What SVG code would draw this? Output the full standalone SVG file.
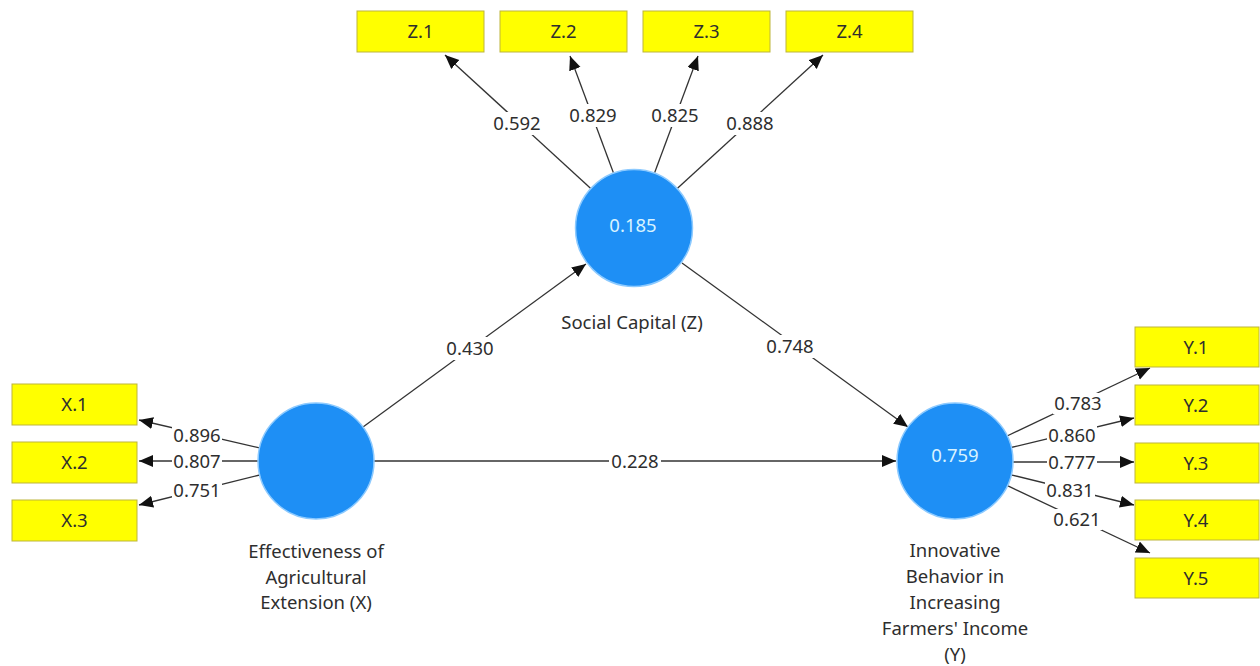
<svg xmlns="http://www.w3.org/2000/svg" width="1260" height="666" viewBox="0 0 1260 666">
<style>
  text { font-family: "Noto Sans", "Open Sans", "DejaVu Sans", sans-serif; fill: #2e2e2e; text-anchor: middle; }
  .ind { fill: #ffff00; stroke: #bdb53c; stroke-width: 1; }
  .lat { fill: #1e8ff5; stroke: #8ccaff; stroke-width: 1.5; }
  .ind-t { font-size: 18.5px; }
  .lat-t { font-size: 18.5px; fill: #d8f3ff; }
  .cap { font-size: 18.5px; }
  .conn { stroke: #333333; stroke-width: 1.3; fill: none; marker-end: url(#arr); }
  .lbl-bg { fill: #ffffff; }
  .lbl { font-size: 18.5px; }
</style>
<defs>
  <marker id="arr" markerUnits="userSpaceOnUse" markerWidth="16" markerHeight="14" refX="14" refY="6" orient="auto">
    <path d="M0,0 L14,6 L0,12 z" fill="#111111"/>
  </marker>
</defs>
<rect width="1260" height="666" fill="#ffffff"/>

<g id="connectors">
  <line class="conn" x1="590.5" y1="188.2" x2="445" y2="55"/>
  <line class="conn" x1="613.4" y1="172.7" x2="570" y2="56"/>
  <line class="conn" x1="654.6" y1="172.7" x2="698" y2="56"/>
  <line class="conn" x1="677.5" y1="188.2" x2="823" y2="55"/>
  <line class="conn" x1="259.5" y1="447.9" x2="139" y2="420"/>
  <line class="conn" x1="258" y1="461" x2="139" y2="461"/>
  <line class="conn" x1="259.7" y1="475" x2="139" y2="505"/>
  <line class="conn" x1="1007" y1="436" x2="1150" y2="368"/>
  <line class="conn" x1="1011" y1="447.5" x2="1134" y2="418"/>
  <line class="conn" x1="1013" y1="462" x2="1134" y2="462"/>
  <line class="conn" x1="1011" y1="474.8" x2="1134" y2="505"/>
  <line class="conn" x1="1007.5" y1="485.7" x2="1150" y2="553"/>
  <line class="conn" x1="363" y1="427" x2="586" y2="264"/>
  <line class="conn" x1="682" y1="263" x2="908" y2="427"/>
  <line class="conn" x1="374" y1="461" x2="896" y2="461"/>

  <rect class="lbl-bg" x="491" y="112" width="52" height="23"/><text class="lbl" x="517" y="130">0.592</text>
  <rect class="lbl-bg" x="567" y="104" width="52" height="23"/><text class="lbl" x="593" y="122">0.829</text>
  <rect class="lbl-bg" x="649" y="104" width="52" height="23"/><text class="lbl" x="675" y="122">0.825</text>
  <rect class="lbl-bg" x="724" y="112" width="52" height="23"/><text class="lbl" x="750" y="130">0.888</text>

  <rect class="lbl-bg" x="172" y="425" width="50" height="21"/><text class="lbl" x="197" y="442">0.896</text>
  <rect class="lbl-bg" x="172" y="451" width="50" height="21"/><text class="lbl" x="197" y="468">0.807</text>
  <rect class="lbl-bg" x="172" y="480" width="50" height="21"/><text class="lbl" x="197" y="497">0.751</text>

  <rect class="lbl-bg" x="1053" y="393" width="50" height="21"/><text class="lbl" x="1078" y="410">0.783</text>
  <rect class="lbl-bg" x="1047" y="425" width="50" height="21"/><text class="lbl" x="1072" y="442">0.860</text>
  <rect class="lbl-bg" x="1047" y="452" width="50" height="21"/><text class="lbl" x="1072" y="469">0.777</text>
  <rect class="lbl-bg" x="1045" y="480" width="50" height="21"/><text class="lbl" x="1070" y="497">0.831</text>
  <rect class="lbl-bg" x="1052" y="509" width="50" height="21"/><text class="lbl" x="1077" y="526">0.621</text>

  <rect class="lbl-bg" x="445" y="337" width="50" height="23"/><text class="lbl" x="470" y="355">0.430</text>
  <rect class="lbl-bg" x="765" y="335" width="50" height="23"/><text class="lbl" x="790" y="353">0.748</text>
  <rect class="lbl-bg" x="609" y="450" width="52" height="22"/><text class="lbl" x="635" y="468">0.228</text>
</g>

<g id="Z1"><rect class="ind" x="357" y="11" width="127" height="41"/><text class="ind-t" x="420.5" y="38">Z.1</text></g>
<g id="Z2"><rect class="ind" x="500" y="11" width="127" height="41"/><text class="ind-t" x="563.5" y="38">Z.2</text></g>
<g id="Z3"><rect class="ind" x="643" y="11" width="127" height="41"/><text class="ind-t" x="706.5" y="38">Z.3</text></g>
<g id="Z4"><rect class="ind" x="786" y="11" width="127" height="41"/><text class="ind-t" x="849.5" y="38">Z.4</text></g>

<g id="X1"><rect class="ind" x="12" y="384" width="125" height="41"/><text class="ind-t" x="74.5" y="411">X.1</text></g>
<g id="X2"><rect class="ind" x="12" y="442" width="125" height="41"/><text class="ind-t" x="74.5" y="469">X.2</text></g>
<g id="X3"><rect class="ind" x="12" y="500" width="125" height="41"/><text class="ind-t" x="74.5" y="527">X.3</text></g>

<g id="Y1"><rect class="ind" x="1135" y="327" width="124" height="40"/><text class="ind-t" x="1196" y="353.5">Y.1</text></g>
<g id="Y2"><rect class="ind" x="1135" y="385" width="124" height="40"/><text class="ind-t" x="1196" y="411.5">Y.2</text></g>
<g id="Y3"><rect class="ind" x="1135" y="443" width="124" height="40"/><text class="ind-t" x="1196" y="469.5">Y.3</text></g>
<g id="Y4"><rect class="ind" x="1135" y="500" width="124" height="40"/><text class="ind-t" x="1196" y="526.5">Y.4</text></g>
<g id="Y5"><rect class="ind" x="1135" y="558" width="124" height="40"/><text class="ind-t" x="1196" y="584.5">Y.5</text></g>

<g id="Z">
  <circle class="lat" cx="634" cy="228" r="58.5"/>
  <text class="lat-t" x="633" y="232">0.185</text>
  <text class="cap" x="632" y="329">Social Capital (Z)</text>
</g>
<g id="X">
  <circle class="lat" cx="316" cy="461" r="58"/>
  <text class="cap" x="316" y="558">Effectiveness of</text>
  <text class="cap" x="316" y="584">Agricultural</text>
  <text class="cap" x="316" y="609">Extension (X)</text>
</g>
<g id="Y">
  <circle class="lat" cx="955" cy="461" r="58"/>
  <text class="lat-t" x="955" y="462">0.759</text>
  <text class="cap" x="955" y="557">Innovative</text>
  <text class="cap" x="955" y="583">Behavior in</text>
  <text class="cap" x="955" y="609">Increasing</text>
  <text class="cap" x="955" y="635">Farmers' Income</text>
  <text class="cap" x="955" y="661">(Y)</text>
</g>
</svg>
